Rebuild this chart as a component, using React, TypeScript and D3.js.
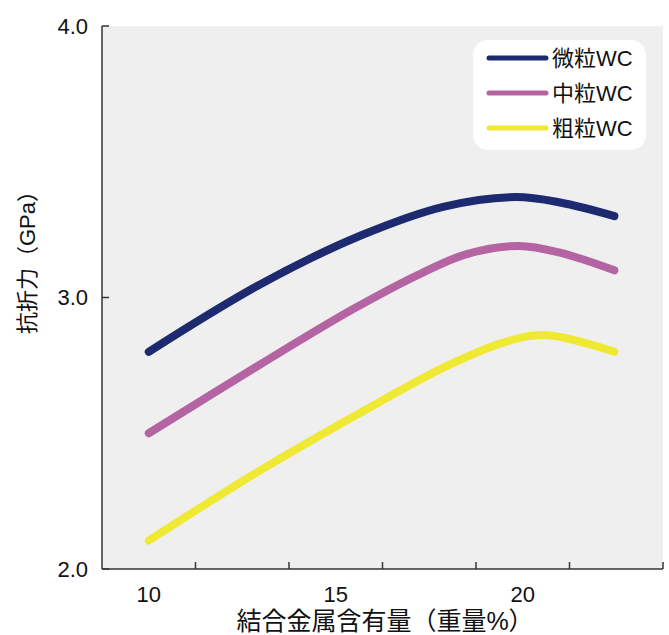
import React from "react";
import * as d3 from "d3";

const seriesNames = ["微粒WC", "中粒WC", "粗粒WC"];
const seriesColors = ["#1d2a70", "#b564a3", "#f0e934"];

const fineX = [10, 13, 15.7, 17.9, 19.8, 21, 22.45];
const fineY = [2.8, 3.05, 3.23, 3.335, 3.37, 3.35, 3.3];
const midX = [10, 13, 15.5, 17.3, 18.5, 19.9, 21, 22.45];
const midY = [2.5, 2.755, 2.96, 3.09, 3.16, 3.19, 3.165, 3.1];
const coarseX = [10, 13, 16.1, 18, 19.5, 20.6, 22.45];
const coarseY = [2.105, 2.365, 2.61, 2.75, 2.835, 2.862, 2.8];

const xTickMarks = [11.25, 13.75, 16.25, 18.75, 21.25, 23.75];
const xTickLabels = [10, 15, 20];
const yTicks = [2.0, 3.0, 4.0];

const xLabel = "結合金属含有量（重量%）";
const yLabel = "抗折力（GPa）";

const W = 669;
const H = 635;
const left = 102;
const right = 663;
const top = 26;
const bottom = 569;

export default function App() {
  const x = d3.scaleLinear().domain([8.75, 23.75]).range([left, right]);
  const y = d3.scaleLinear().domain([2.0, 4.0]).range([bottom, top]);
  const line = d3
    .line<[number, number]>()
    .x((d) => x(d[0]))
    .y((d) => y(d[1]))
    .curve(d3.curveCatmullRom.alpha(0.5));

  const series = [
    { xs: fineX, ys: fineY },
    { xs: midX, ys: midY },
    { xs: coarseX, ys: coarseY },
  ];

  const font = "'Liberation Sans', Arial, 'Noto Sans CJK JP', sans-serif";
  const axisColor = "#3a3333";

  return (
    <svg
      width={W}
      height={H}
      style={{ position: "absolute", left: 0, top: 0 }}
      fontFamily={font}
    >
      <rect x={0} y={0} width={W} height={H} fill="#ffffff" />
      <rect x={left} y={top} width={right - left} height={bottom - top} fill="#efefef" />

      {series.map((s, i) => (
        <path
          key={i}
          d={line(s.xs.map((v, j) => [v, s.ys[j]] as [number, number])) || ""}
          fill="none"
          stroke={seriesColors[i]}
          strokeWidth={8}
          strokeLinecap="round"
          strokeLinejoin="round"
        />
      ))}

      {/* axes */}
      <line x1={left} y1={top} x2={left} y2={bottom} stroke={axisColor} strokeWidth={1.5} />
      <line x1={left} y1={bottom} x2={right} y2={bottom} stroke={axisColor} strokeWidth={1.5} />
      {yTicks.map((t) => (
        <g key={t}>
          <line x1={left} x2={left + 7} y1={y(t)} y2={y(t)} stroke={axisColor} strokeWidth={1.5} />
          <text
            x={88}
            y={y(t)}
            textAnchor="end"
            dominantBaseline="central"
            fontSize={22}
            fill="#111"
          >
            {t.toFixed(1)}
          </text>
        </g>
      ))}
      {xTickMarks.map((t) => (
        <line key={t} x1={x(t)} x2={x(t)} y1={bottom} y2={bottom - 7} stroke={axisColor} strokeWidth={1.5} />
      ))}
      {xTickLabels.map((t) => (
        <text
          key={t}
          x={x(t)}
          y={594}
          textAnchor="middle"
          dominantBaseline="central"
          fontSize={22}
          fill="#111"
        >
          {t}
        </text>
      ))}

      <text x={385} y={621} textAnchor="middle" dominantBaseline="central" fontSize={25} fill="#111">
        {xLabel}
      </text>
      <text
        transform={`translate(27,257) rotate(-90)`}
        textAnchor="middle"
        dominantBaseline="central"
        fontSize={22}
        fill="#111"
      >
        {yLabel}
      </text>

      {/* legend */}
      <rect x={473} y={40} width={173} height={110} rx={15} ry={15} fill="#ffffff" />
      {seriesNames.map((n, i) => {
        const ly = 58 + i * 35;
        return (
          <g key={n}>
            <line x1={489} x2={546} y1={ly} y2={ly} stroke={seriesColors[i]} strokeWidth={5} strokeLinecap="round" />
            <text x={552} y={ly} dominantBaseline="central" fontSize={22} fill="#111">
              {n}
            </text>
          </g>
        );
      })}
    </svg>
  );
}
